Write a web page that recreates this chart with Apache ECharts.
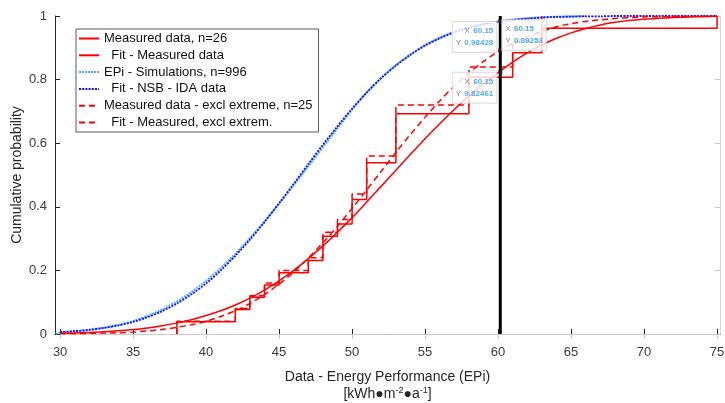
<!DOCTYPE html>
<html>
<head>
<meta charset="utf-8">
<script src="https://cdn.jsdelivr.net/npm/echarts@6/dist/echarts.min.js"></script>
<style>
  html, body { margin: 0; padding: 0; background: #fff; }
  #chart { width: 725px; height: 403px; }
</style>
</head>
<body>
<div id="chart"></div>
<script>
// measured data (n=26): distinct values and cumulative counts
const measX = [38, 42, 43, 44, 45, 47, 48, 49, 50, 51, 53, 58, 61, 63, 75];
const measCount = [1, 2, 3, 4, 5, 6, 8, 9, 11, 14, 18, 21, 23, 25, 26];
const nMeas = 26;
// excluding the extreme value (n=25)
const exclX = [38, 42, 43, 44, 45, 47, 48, 49, 50, 51, 53, 58, 61, 63];
const exclCount = [1, 2, 3, 4, 5, 6, 8, 9, 11, 14, 18, 21, 23, 25];
const nExcl = 25;

// x positions where the fitted curves were read
const fitX = [30, 31, 32, 33, 34, 35, 36, 37, 38, 39, 40, 41, 42, 43, 44, 45, 46, 47, 48, 49, 50, 51, 52,
  53, 54, 55, 56, 57, 58, 59, 60, 61, 62, 63, 64, 65, 66, 67, 68, 69, 70, 71, 72, 73, 74, 75];
const fitMeas = [0.002, 0.003, 0.005, 0.007, 0.010, 0.014, 0.019, 0.026, 0.035, 0.045, 0.058, 0.073, 0.091,
  0.113, 0.138, 0.167, 0.200, 0.237, 0.277, 0.320, 0.366, 0.415, 0.465, 0.515, 0.565, 0.614, 0.661, 0.706,
  0.748, 0.787, 0.822, 0.855, 0.884, 0.909, 0.930, 0.947, 0.961, 0.972, 0.980, 0.986, 0.990, 0.993, 0.995,
  0.997, 0.998, 0.999];
const fitExcl = [0.001, 0.001, 0.002, 0.003, 0.004, 0.006, 0.010, 0.014, 0.021, 0.029, 0.040, 0.055, 0.073,
  0.096, 0.124, 0.157, 0.195, 0.239, 0.287, 0.339, 0.395, 0.453, 0.512, 0.571, 0.628, 0.682, 0.733, 0.780,
  0.821, 0.857, 0.888, 0.914, 0.935, 0.952, 0.966, 0.976, 0.983, 0.988, 0.992, 0.995, 0.997, 0.998, 0.999,
  0.999, 1.000, 1.000];
const fitIda = [0.006, 0.009, 0.013, 0.019, 0.027, 0.038, 0.053, 0.072, 0.096, 0.125, 0.159, 0.200, 0.246,
  0.297, 0.352, 0.411, 0.472, 0.534, 0.595, 0.653, 0.709, 0.759, 0.805, 0.844, 0.878, 0.907, 0.930, 0.949,
  0.963, 0.974, 0.982, 0.988, 0.992, 0.995, 0.997, 0.998, 0.999, 0.999, 1.000, 1.000, 1.000, 1.000, 1.000,
  1.000, 1.000, 1.000];

// simulated EPi, n=996 (empirical cdf read at whole units)
const simX = [29.7, 30, 31, 32, 33, 34, 35, 36, 37, 38, 39, 40, 41, 42, 43, 44, 45, 46, 47, 48, 49, 50, 51,
  52, 53, 54, 55, 56, 57, 58, 59, 60, 61, 62, 63, 64, 65, 66];
const simY = [0.001, 0.004, 0.008, 0.013, 0.020, 0.029, 0.041, 0.057, 0.077, 0.102, 0.132, 0.167, 0.207,
  0.252, 0.301, 0.354, 0.410, 0.468, 0.527, 0.587, 0.647, 0.705, 0.760, 0.806, 0.846, 0.880, 0.909, 0.932,
  0.950, 0.964, 0.975, 0.983, 0.989, 0.993, 0.996, 0.998, 0.999, 1.000];

const refX = 60.15;
const tipY = [0.98428, 0.89253, 0.82461];
const xTicks = [30, 35, 40, 45, 50, 55, 60, 65, 70, 75];

const stairs = (xs, counts, n) => [[xs[0], 0]].concat(xs.map((x, i) => [x, counts[i] / n]));
const pairs = (xs, ys) => xs.map((x, i) => [x, ys[i]]);

const font = 'Liberation Sans, Arial, sans-serif';
const red = '#ff0000';

const chart = echarts.init(document.getElementById('chart'));

const tipLabel = (align, vAlign, pos) => ({
  show: true,
  position: pos,
  align: align,
  verticalAlign: vAlign,
  formatter: (p) => '{k|X} {v|' + p.value[0].toFixed(2) + '}\n{k|Y} {v|' + p.value[1].toFixed(5) + '}',
  backgroundColor: '#fff',
  borderColor: '#d4d4d4',
  borderWidth: 1,
  padding: [3, 3],
  rich: {
    k: { fontFamily: font, fontSize: 8, color: '#666', lineHeight: 10 },
    v: { fontFamily: font, fontSize: 8, color: '#2196f3', fontWeight: 'bold', lineHeight: 10 }
  }
});

const option = {
  animation: false,
  textStyle: { fontFamily: font },
  grid: { left: 55, right: 5, top: 16, bottom: 69, outerBoundsMode: 'none' },
  legend: {
    orient: 'vertical',
    left: 76,
    top: 29,
    padding: [3, 6, 3, 2],
    itemWidth: 20,
    itemHeight: 14,
    itemGap: 3.8,
    backgroundColor: '#fff',
    borderColor: '#5a5a5a',
    borderWidth: 1,
    borderRadius: 0,
    itemStyle: { opacity: 0 },
    textStyle: { fontFamily: font, fontSize: 13, color: '#111' },
    data: [
      'Measured data, n=26',
      '  Fit - Measured data',
      'EPi - Simulations, n=996',
      '  Fit - NSB - IDA data',
      'Measured data - excl extreme, n=25',
      '  Fit - Measured, excl extrem.'
    ]
  },
  xAxis: [
    {
      type: 'value',
      min: 29.65,
      max: 75.2,
      position: 'bottom',
      axisLine: { lineStyle: { color: '#262626', width: 1 } },
      axisTick: { inside: true, length: 5, customValues: xTicks, lineStyle: { color: '#262626' } },
      axisLabel: { customValues: xTicks, fontFamily: font, fontSize: 13, color: '#3a3a3a', margin: 12 },
      splitLine: { show: false },
      name: '{t|Data - Energy Performance (EPi)}\n{u|[kWh●m}{s|-2}{u|●a}{s|-1}{u|]}',
      nameLocation: 'middle',
      nameGap: 35,
      nameTextStyle: {
        rich: {
          t: { fontFamily: font, fontSize: 14, color: '#262626', lineHeight: 17 },
          u: { fontFamily: font, fontSize: 14, color: '#262626', lineHeight: 17 },
          s: { fontFamily: font, fontSize: 9, color: '#262626', lineHeight: 17, verticalAlign: 'top' }
        }
      }
    },
    {
      type: 'value',
      min: 29.65,
      max: 75.2,
      position: 'top',
      axisLine: { lineStyle: { color: '#c8c8c8' } },
      axisTick: { inside: true, length: 5, customValues: xTicks, lineStyle: { color: '#c8c8c8' } },
      axisLabel: { show: false },
      splitLine: { show: false }
    }
  ],
  yAxis: [
    {
      type: 'value',
      min: 0,
      max: 1,
      interval: 0.2,
      axisLine: { show: true, lineStyle: { color: '#262626' } },
      axisTick: { show: true, inside: true, length: 5, lineStyle: { color: '#262626' } },
      axisLabel: { fontFamily: font, fontSize: 13, color: '#3a3a3a', margin: 8 },
      splitLine: { show: false },
      name: 'Cumulative probability',
      nameLocation: 'middle',
      nameMoveOverlap: false,
      nameGap: 31,
      nameTextStyle: { fontFamily: font, fontSize: 14, color: '#262626' }
    },
    {
      type: 'value',
      min: 0,
      max: 1,
      interval: 0.2,
      position: 'right',
      axisLine: { show: true, lineStyle: { color: '#d8d8d8' } },
      axisTick: { show: true, inside: true, length: 5, lineStyle: { color: '#c8c8c8' } },
      axisLabel: { show: false },
      splitLine: { show: false }
    }
  ],
  series: [
    {
      name: 'EPi - Simulations, n=996',
      type: 'line',
      data: pairs(simX, simY),
      symbol: 'none',
      lineStyle: { color: '#49aef5', width: 2, type: [2, 1] },
      itemStyle: { color: '#49aef5' }
    },
    {
      name: '  Fit - NSB - IDA data',
      type: 'line',
      data: pairs(fitX, fitIda),
      smooth: 0.3,
      symbol: 'none',
      lineStyle: { color: '#1010ff', width: 1.8, type: [2, 1.2] },
      itemStyle: { color: '#1010ff' }
    },
    {
      name: 'Measured data, n=26',
      type: 'line',
      step: 'end',
      data: stairs(measX, measCount, nMeas),
      symbol: 'none',
      lineStyle: { color: red, width: 1.5 },
      itemStyle: { color: red }
    },
    {
      name: '  Fit - Measured data',
      type: 'line',
      data: pairs(fitX, fitMeas),
      smooth: 0.3,
      symbol: 'none',
      lineStyle: { color: red, width: 1.5 },
      itemStyle: { color: red }
    },
    {
      name: 'Measured data - excl extreme, n=25',
      type: 'line',
      step: 'end',
      data: stairs(exclX, exclCount, nExcl),
      symbol: 'none',
      lineStyle: { color: red, width: 1.5, type: [6, 4] },
      itemStyle: { color: red }
    },
    {
      name: '  Fit - Measured, excl extrem.',
      type: 'line',
      data: pairs(fitX, fitExcl),
      smooth: 0.3,
      symbol: 'none',
      lineStyle: { color: red, width: 1.5, type: [6, 4] },
      itemStyle: { color: red }
    },
    {
      name: 'ref',
      type: 'line',
      data: [[refX, 0], [refX, 1]],
      symbol: 'none',
      lineStyle: { color: '#000', width: 3 },
      z: 5
    },
    {
      name: 'tips',
      type: 'scatter',
      symbol: 'rect',
      symbolSize: 4,
      itemStyle: { color: '#222' },
      z: 6,
      data: [
        { value: [refX, tipY[0]], label: tipLabel('right', 'top', [-2, 3]) },
        { value: [refX, tipY[1]], label: tipLabel('left', 'bottom', [4, 2]) },
        { value: [refX, tipY[2]], label: tipLabel('right', 'top', [-2, 3]) }
      ]
    }
  ]
};

chart.setOption(option);
</script>
</body>
</html>
